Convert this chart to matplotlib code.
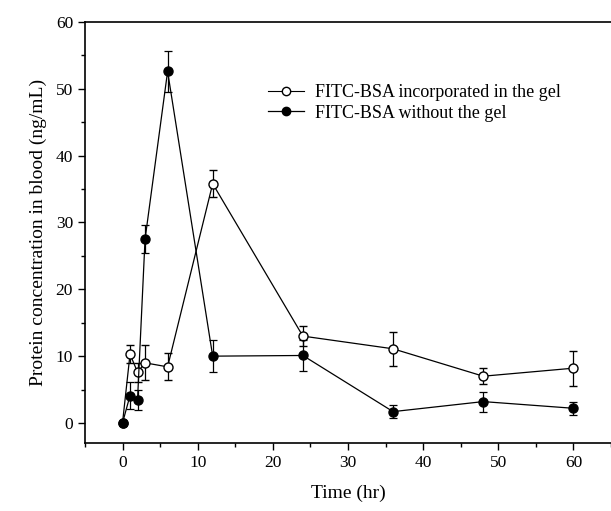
import matplotlib.pyplot as plt
from matplotlib.lines import Line2D
from matplotlib.ticker import MultipleLocator

# time points (hr)
time_hr = [0, 1, 2, 3, 6, 12, 24, 36, 48, 60]

# FITC-BSA incorporated in the gel (open circles)
gel_mean = [0.0, 10.3, 7.6, 9.0, 8.4, 35.8, 13.0, 11.1, 7.0, 8.2]
gel_err = [0.0, 1.3, 1.4, 2.6, 2.0, 2.0, 1.5, 2.5, 1.2, 2.6]

# FITC-BSA without the gel (filled circles)
free_mean = [0.0, 4.1, 3.5, 27.5, 52.6, 10.0, 10.1, 1.7, 3.2, 2.2]
free_err = [0.0, 2.0, 1.5, 2.1, 3.1, 2.4, 2.3, 1.0, 1.5, 1.0]

labels = ["FITC-BSA incorporated in the gel", "FITC-BSA without the gel"]

plt.rcParams["font.family"] = ["Liberation Serif", "DejaVu Serif"]

fig = plt.figure(figsize=(6.11, 5.11), dpi=100)
ax = fig.add_axes([0.139, 0.133, 0.861, 0.824])

ax.errorbar(time_hr, gel_mean, yerr=gel_err, color="black", lw=0.9,
            marker="o", ms=6.5, mfc="white", mec="black", mew=1.0,
            capsize=3, elinewidth=0.9, capthick=0.9, zorder=2)
ax.errorbar(time_hr, free_mean, yerr=free_err, color="black", lw=0.9,
            marker="o", ms=6.5, mfc="black", mec="black",
            capsize=3, elinewidth=0.9, capthick=0.9, zorder=3)

ax.set_xlim(-5, 65)
ax.set_ylim(-3, 60)
ax.xaxis.set_major_locator(MultipleLocator(10))
ax.xaxis.set_minor_locator(MultipleLocator(5))
ax.yaxis.set_major_locator(MultipleLocator(10))
ax.yaxis.set_minor_locator(MultipleLocator(5))
ax.tick_params(which="major", direction="out", length=5, width=1.0, labelsize=12.5)
ax.tick_params(which="minor", direction="out", length=3, width=1.0)
ax.tick_params(top=False, right=False)
ax.spines["right"].set_visible(False)
for s in ("left", "bottom", "top"):
    ax.spines[s].set_linewidth(1.2)

ax.set_xlabel("Time (hr)", fontsize=14, labelpad=10)
ax.set_ylabel("Protein concentration in blood (ng/mL)", fontsize=14, labelpad=6)

handles = [
    Line2D([], [], color="black", lw=0.8, marker="o", ms=6, mfc="white", mec="black"),
    Line2D([], [], color="black", lw=0.9, marker="o", ms=6, mfc="black", mec="black"),
]
ax.legend(handles, labels, loc="upper left", bbox_to_anchor=(0.335, 0.87),
          frameon=False, fontsize=13, handlelength=2.0, handletextpad=0.6,
          labelspacing=0.2, borderaxespad=0)

fig.savefig("out.png", dpi=100)
